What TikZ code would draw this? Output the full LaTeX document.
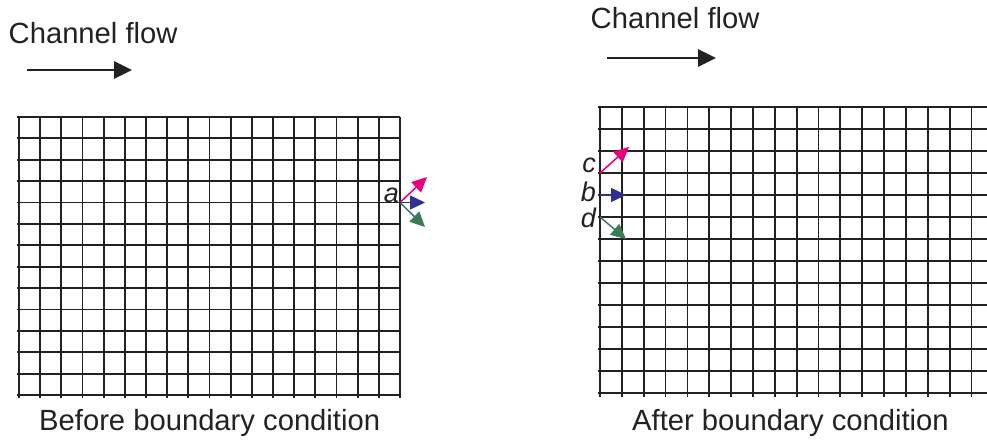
\documentclass[tikz,border=0pt]{standalone}
\usepackage{fontspec}
\setmainfont{Liberation Sans}
\usetikzlibrary{arrows.meta}
\definecolor{vecpink}{HTML}{E6007E}
\definecolor{vecblue}{HTML}{2E3092}
\definecolor{vecgreen}{HTML}{3D7A5A}
\definecolor{inkgray}{HTML}{222222}
\begin{document}
\begin{tikzpicture}[x=1pt,y=-1pt,
  gridline/.style={line width=1.8pt, draw=inkgray},
  flowarrow/.style={line width=2.8pt, draw=inkgray, -{Triangle[length=18pt,width=17pt]}},
  vec/.style={line width=1.5pt, -{Triangle[length=15pt,width=14pt]}},
  caption/.style={font=\fontsize{29.2}{34}\selectfont, text=inkgray, inner sep=0pt},
  veclabel/.style={font=\fontsize{27}{32}\selectfont\itshape, text=inkgray,
    inner sep=0pt, text depth=0pt}]
\useasboundingbox[fill=white] (0,0) rectangle (987,439);

% ---------- left panel: before the boundary condition ----------
\node[caption, anchor=base west] (flowL) at (8.5,43) {Channel flow};
\coordinate (flowLs) at (27,70);
\coordinate (flowLe) at (132,70);
\draw[flowarrow] (flowLs) -- (flowLe);

\foreach \i in {0,...,18}
  \draw[gridline] ({19+\i*381/18},117) -- ({19+\i*381/18},398);
\foreach \j in {0,...,13}
  \draw[gridline] (17,{117+\j*278/13}) -- (400,{117+\j*278/13});

\coordinate (pa) at (400,202.5);
\coordinate (aPink) at (427,177);
\coordinate (aBlue) at (425,202.5);
\coordinate (aGreen) at (425,227);
\draw[vec, vecpink] (pa) -- (aPink);
\draw[vec, vecgreen] (pa) -- (aGreen);
\draw[vec, vecblue] (pa) -- (aBlue);
\node[veclabel, anchor=base east] (la) at (399,202) {a};

\node[caption, anchor=base west] (capL) at (39,430) {Before boundary condition};

% ---------- right panel: after the boundary condition ----------
\node[caption, anchor=base west] (flowR) at (590.5,28) {Channel flow};
\coordinate (flowRs) at (607,58);
\coordinate (flowRe) at (716,58);
\draw[flowarrow] (flowRs) -- (flowRe);

\foreach \i in {0,...,17}
  \draw[gridline] ({600+\i*21.85},107) -- ({600+\i*21.85},397);
\foreach \j in {0,...,13}
  \draw[gridline] (598,{107+\j*22}) -- (987,{107+\j*22});

\coordinate (pc) at (600,173);
\coordinate (pb) at (600,195);
\coordinate (pd) at (600,217);
\coordinate (cTip) at (629,147);
\coordinate (bTip) at (626,195);
\coordinate (dTip) at (626,239);
\draw[vec, vecpink] (pc) -- (cTip);
\draw[vec, vecblue] (pb) -- (bTip);
\draw[vec, vecgreen] (pd) -- (dTip);
\node[veclabel, anchor=base east] (lc) at (596,172) {c};
\node[veclabel, anchor=base east] (lb) at (596,201) {b};
\node[veclabel, anchor=base east] (ld) at (596,227) {d};

\node[caption, anchor=base west] (capR) at (632,430) {After boundary condition};
\end{tikzpicture}
\end{document}
